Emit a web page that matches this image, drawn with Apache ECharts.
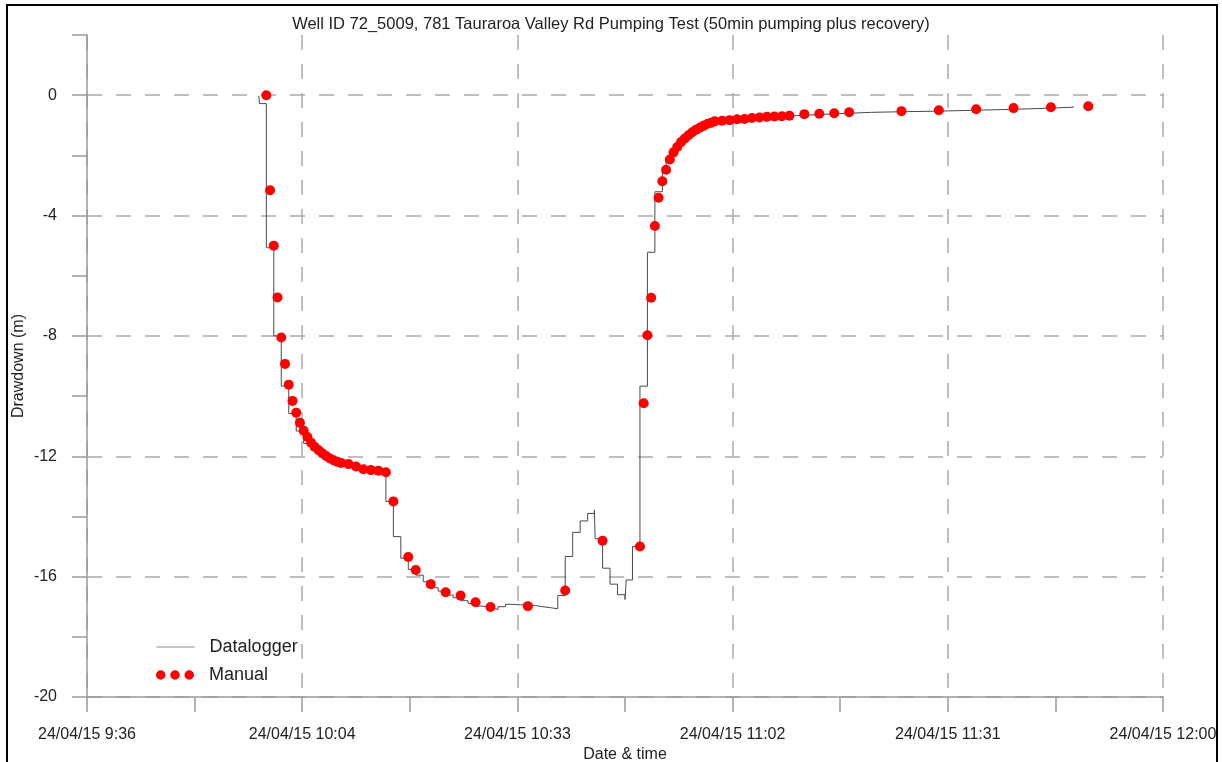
<!DOCTYPE html>
<html><head><meta charset="utf-8">
<script src="https://cdn.jsdelivr.net/npm/echarts@6/dist/echarts.min.js"></script>
<style>html,body{margin:0;padding:0;background:#fff}#c{width:1222px;height:762px}</style>
</head><body><div id="c"></div><script>
// ---- data ----
const TITLE = 'Well ID 72_5009, 781 Tauraroa Valley Rd Pumping Test (50min pumping plus recovery)';
const DATE_LABEL = '24/04/15';
const X_START = '09:36:00';
const X_END = '12:00:00';
const Y_MIN = -20, Y_MAX = 2;

const loggerTimes = ['09:59:00','09:59:05','10:00:00','10:01:00','10:02:00','10:03:00','10:04:00','10:05:00','10:06:00','10:07:00',
  '10:08:00','10:09:00','10:10:00','10:11:00','10:12:00','10:13:00','10:14:00','10:15:00','10:16:00','10:17:00',
  '10:18:00','10:19:00','10:20:00','10:21:00','10:22:00','10:23:00','10:24:00','10:25:00','10:26:00','10:27:00',
  '10:28:00','10:29:00','10:30:00','10:31:00','10:32:00','10:33:00','10:34:00','10:35:00','10:36:00','10:37:00',
  '10:38:00','10:39:00','10:40:00','10:41:00','10:42:00','10:43:00','10:43:54','10:44:00','10:45:00','10:46:00',
  '10:47:00','10:48:00','10:48:10','10:49:00','10:50:00','10:51:00','10:52:00','10:53:00','10:53:30','10:54:00',
  '10:54:30','10:55:00','10:55:30','10:56:00','10:56:30','10:57:00','10:57:30','10:58:00','10:58:30','10:59:00',
  '10:59:30','11:00:00','11:01:00','11:02:00','11:03:00','11:04:00','11:05:00','11:06:00','11:07:00','11:08:00',
  '11:09:00','11:10:00','11:12:00','11:14:00','11:16:00','11:18:00','11:21:00','11:25:00','11:30:00','11:35:00',
  '11:40:00','11:45:00','11:48:00'];
const loggerDrawdown = [-0.03,-0.28,-5.07,-8.0,-9.67,-10.58,-11.16,-11.57,-11.8,-11.98,
  -12.1,-12.2,-12.26,-12.32,-12.4,-12.46,-12.5,-12.53,-13.5,-14.67,
  -15.39,-15.76,-15.95,-16.17,-16.37,-16.48,-16.61,-16.7,-16.8,-16.89,
  -16.98,-17.03,-17.09,-17.0,-16.92,-16.94,-16.93,-16.96,-17.0,-17.03,
  -17.07,-16.63,-15.33,-14.53,-14.15,-13.9,-13.78,-14.74,-15.72,-16.25,
  -16.6,-16.76,-16.11,-15.0,-9.67,-5.22,-3.21,-2.49,-2.16,-1.92,
  -1.74,-1.57,-1.45,-1.34,-1.24,-1.16,-1.09,-1.03,-0.97,-0.93,
  -0.89,-0.86,-0.84,-0.82,-0.80,-0.78,-0.76,-0.74,-0.72,-0.70,
  -0.69,-0.67,-0.64,-0.62,-0.60,-0.57,-0.55,-0.53,-0.50,-0.47,
  -0.43,-0.40,-0.37];

const manualTimes = ['10:00:00','10:00:30','10:01:00','10:01:30','10:02:00','10:02:30','10:03:00','10:03:30','10:04:00','10:04:30',
  '10:05:00','10:05:30','10:06:00','10:06:30','10:07:00','10:07:30','10:08:00','10:08:30','10:09:00','10:09:30',
  '10:10:00','10:11:00','10:12:00','10:13:00','10:14:00','10:15:00','10:16:00','10:17:00','10:19:00','10:20:00',
  '10:22:00','10:24:00','10:26:00','10:28:00','10:30:00','10:35:00','10:40:00','10:45:00','10:50:00','10:50:30',
  '10:51:00','10:51:30','10:52:00','10:52:30','10:53:00','10:53:30','10:54:00','10:54:30','10:55:00','10:55:30',
  '10:56:00','10:56:30','10:57:00','10:57:30','10:58:00','10:58:30','10:59:00','10:59:30','11:00:00','11:01:00',
  '11:02:00','11:03:00','11:04:00','11:05:00','11:06:00','11:07:00','11:08:00','11:09:00','11:10:00','11:12:00',
  '11:14:00','11:16:00','11:18:00','11:25:00','11:30:00','11:35:00','11:40:00','11:45:00','11:50:00'];
const manualDrawdown = [0,-3.16,-5.0,-6.72,-8.05,-8.93,-9.62,-10.16,-10.55,-10.89,
  -11.15,-11.36,-11.55,-11.69,-11.8,-11.9,-11.99,-12.07,-12.13,-12.18,
  -12.22,-12.26,-12.34,-12.43,-12.46,-12.48,-12.53,-13.5,-15.35,-15.78,
  -16.25,-16.52,-16.63,-16.85,-17.01,-16.98,-16.46,-14.81,-15.0,-10.24,
  -7.98,-6.73,-4.35,-3.41,-2.86,-2.48,-2.14,-1.90,-1.72,-1.56,
  -1.44,-1.33,-1.23,-1.15,-1.08,-1.02,-0.96,-0.92,-0.87,-0.85,
  -0.83,-0.80,-0.79,-0.76,-0.74,-0.72,-0.71,-0.70,-0.68,-0.63,
  -0.62,-0.60,-0.57,-0.53,-0.50,-0.47,-0.43,-0.40,-0.37];

// ---- helpers ----
function toMin(s){ const p = s.split(':').map(Number); return p[0]*60 + p[1] + (p[2]||0)/60; }
const xMin = toMin(X_START), xMax = toMin(X_END);
const MINOR = (xMax - xMin) / 10; // 14.4 min between ticks
const pad = n => (n < 10 ? '0' : '') + n;
const FONT = 'Liberation Sans, Arial, Helvetica, sans-serif';

const loggerData = loggerTimes.map((t,i) => [toMin(t), loggerDrawdown[i]]);
const manualData = manualTimes.map((t,i) => [toMin(t), manualDrawdown[i]]);

const gridGray = '#ababab';
const axisGray = '#9a9a9a';

const chart = echarts.init(document.getElementById('c'), null, {renderer:'canvas'});
chart.setOption({
  animation: false,
  backgroundColor: '#fff',
  textStyle: { fontFamily: FONT },
  title: {
    text: TITLE, left: 'center', top: 11,
    textStyle: { fontFamily: FONT, fontSize: 16.5, fontWeight: 'normal', color: '#222' }
  },
  grid: { left: 87, right: 59, top: 35, bottom: 65, outerBoundsMode: 'none', containLabel: false },
  xAxis: {
    type: 'value', min: xMin, max: xMax, interval: MINOR,
    name: 'Date & time', nameLocation: 'middle', nameGap: 50, nameMoveOverlap: false,
    nameTextStyle: { fontFamily: FONT, fontSize: 16, color: '#222' },
    axisLine: { onZero: false, lineStyle: { color: axisGray, width: 1.5 } },
    axisTick: { show: true, length: 15, lineStyle: { color: axisGray, width: 1.5 } },
    axisLabel: {
      margin: 30, fontFamily: FONT, fontSize: 16, color: '#222', showMinLabel: true, showMaxLabel: true,
      formatter: v => {
        const idx = Math.round((v - xMin) / MINOR);
        if (idx % 2) return '';
        const tot = Math.floor(v + 1e-6);
        return DATE_LABEL + ' ' + Math.floor(tot/60) + ':' + pad(tot % 60);
      }
    },
    splitLine: { show: true, lineStyle: { color: [gridGray, 'rgba(0,0,0,0)'], type: [15, 14], width: 1.5 } }
  },
  yAxis: {
    type: 'value', min: Y_MIN, max: Y_MAX, interval: 2,
    name: 'Drawdown (m)', nameLocation: 'middle', nameGap: 60, nameRotate: 90, nameMoveOverlap: false,
    nameTextStyle: { fontFamily: FONT, fontSize: 16, color: '#222' },
    axisLine: { show: true, onZero: false, lineStyle: { color: axisGray, width: 1.5 } },
    axisTick: { show: true, length: 15, lineStyle: { color: axisGray, width: 1.5 } },
    axisLabel: {
      margin: 30, fontFamily: FONT, fontSize: 16, color: '#222',
      formatter: v => (Math.abs(v % 4) < 1e-6 && v <= 0) ? String(v) : ''
    },
    splitLine: { show: true, lineStyle: { color: [gridGray, 'rgba(0,0,0,0)'], type: [15, 14], width: 1.5 } }
  },
  legend: [
    { data: ['Datalogger'], left: 151, top: 633, itemWidth: 38, itemHeight: 14,
      lineStyle: { color: '#8a8a8a', width: 1.2 },
      itemStyle: { opacity: 0 },
      textStyle: { fontFamily: FONT, fontSize: 18, color: '#222', padding: [0,0,0,10] } },
    { data: [{ name: 'Manual', icon: 'path://M0,5A5,5 0 1,1 10,5A5,5 0 1,1 0,5ZM15,5A5,5 0 1,1 25,5A5,5 0 1,1 15,5ZM30,5A5,5 0 1,1 40,5A5,5 0 1,1 30,5Z' }],
      left: 151, top: 661, itemWidth: 38, itemHeight: 10,
      textStyle: { fontFamily: FONT, fontSize: 18, color: '#222', padding: [0,0,0,10] } }
  ],
  series: [
    { name: 'Datalogger', type: 'line', step: 'end', data: loggerData, symbol: 'none',
      lineStyle: { color: '#4a4a4a', width: 1 }, itemStyle: { color: '#4a4a4a' }, z: 2, silent: true },
    { name: 'Manual', type: 'scatter', data: manualData, symbol: 'circle', symbolSize: 10,
      itemStyle: { color: '#ff0000', opacity: 1 }, z: 3, silent: true }
  ],
  graphic: [
    { type: 'rect', silent: true, z: 99, shape: { x: 1218, y: 0, width: 10, height: 762 }, style: { fill: '#fff' } },
    { type: 'rect', silent: true, z: 100, shape: { x: 7, y: 5, width: 1210, height: 820 }, style: { fill: 'none', stroke: '#000', lineWidth: 2 } }
  ]
});
</script></body></html>
